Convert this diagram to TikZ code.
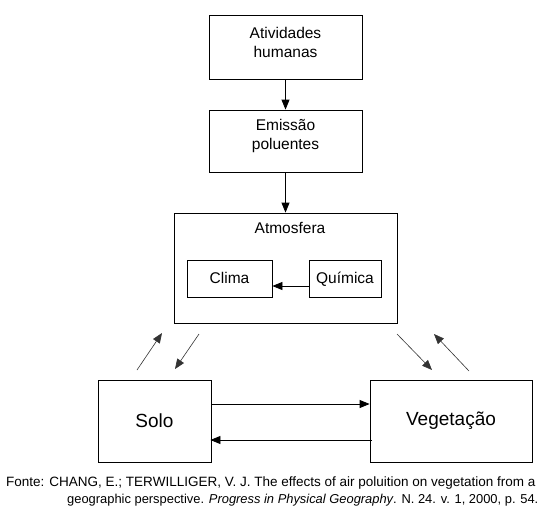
\documentclass[tikz,border=0pt]{standalone}
\usepackage{fontspec}
\setmainfont{Liberation Sans}
\usetikzlibrary{arrows.meta}
\begin{document}
\begin{tikzpicture}[x=1pt,y=-1pt,
  box/.style={draw,line width=0.8pt,rectangle,inner sep=0pt},
  txt/.style={inner sep=0pt,align=center,font=\fontsize{15.5}{19}\selectfont},
  bigtxt/.style={inner sep=0pt,font=\fontsize{19}{22}\selectfont},
  arr/.style={line width=0.8pt,-{Triangle[length=10pt,width=8pt]}},
  darr/.style={line width=0.6pt,black!80,-{Triangle[length=10pt,width=8pt]}},
  captext/.style={anchor=west,inner sep=0pt}]
\useasboundingbox (0,0) rectangle (545,517);
\node[box,minimum width=153pt,minimum height=64pt] (ativ) at (285.5,47) {};
\node[txt] (ativt) at ([yshift=5pt]ativ.center) {Atividades\\humanas};
\node[box,minimum width=153pt,minimum height=62pt] (emis) at (285.5,141) {};
\node[txt] (emist) at ([yshift=5pt]emis.center) {Emissão\\poluentes};
\node[box,minimum width=223pt,minimum height=110pt] (atm) at (285.5,268) {};
\node[txt] (atmt) at (290,228) {Atmosfera};
\node[box,minimum width=85pt,minimum height=37pt] (clima) at (229.5,279) {};
\node[txt,anchor=base] (climat) at ([yshift=-4pt]clima.center) {Clima};
\node[box,minimum width=72pt,minimum height=37pt] (quim) at (345,279) {};
\node[txt,anchor=base] (quimt) at ([yshift=-4pt]quim.center) {Química};
\node[box,minimum width=113pt,minimum height=82pt] (solo) at (154.5,421) {};
\node[bigtxt] (solot) at (solo.center) {Solo};
\node[box,minimum width=162pt,minimum height=82pt] (veg) at (451,421) {};
\node[bigtxt] (vegt) at (veg.center) {Vegetação};
\draw[arr] (ativ) -- (emis);
\draw[arr] (emis) -- (atm);
\draw[arr] ([yshift=-7pt]quim.west) -- ([yshift=-7pt]clima.east);
\draw[arr] ([xshift=1pt,yshift=17pt]solo.east) -- ([yshift=17pt]veg.west);
\draw[arr] ([xshift=2pt,yshift=-19pt]veg.west) -- ([xshift=-1pt,yshift=-19pt]solo.east);
\coordinate (a1) at (137,370); \coordinate (a2) at (162,333);
\coordinate (b1) at (199,334); \coordinate (b2) at (175,369);
\coordinate (c1) at (397,334); \coordinate (c2) at (432,370);
\coordinate (d1) at (469,371); \coordinate (d2) at (434,334);
\draw[darr] (a1) -- (a2);
\draw[darr] (b1) -- (b2);
\draw[darr] (c1) -- (c2);
\draw[darr] (d1) -- (d2);
\node[captext,font=\fontsize{13.5}{16}\selectfont] (cap1) at (6,483) {Fonte: CHANG, E.; TERWILLIGER, V. J. The effects of air poluition on vegetation from a};
\node[captext,font=\fontsize{12.9}{16}\selectfont] (cap2) at (67,500) {geographic perspective. \textit{Progress in Physical Geography}. N. 24. v. 1, 2000, p. 54.};
\end{tikzpicture}
\end{document}
